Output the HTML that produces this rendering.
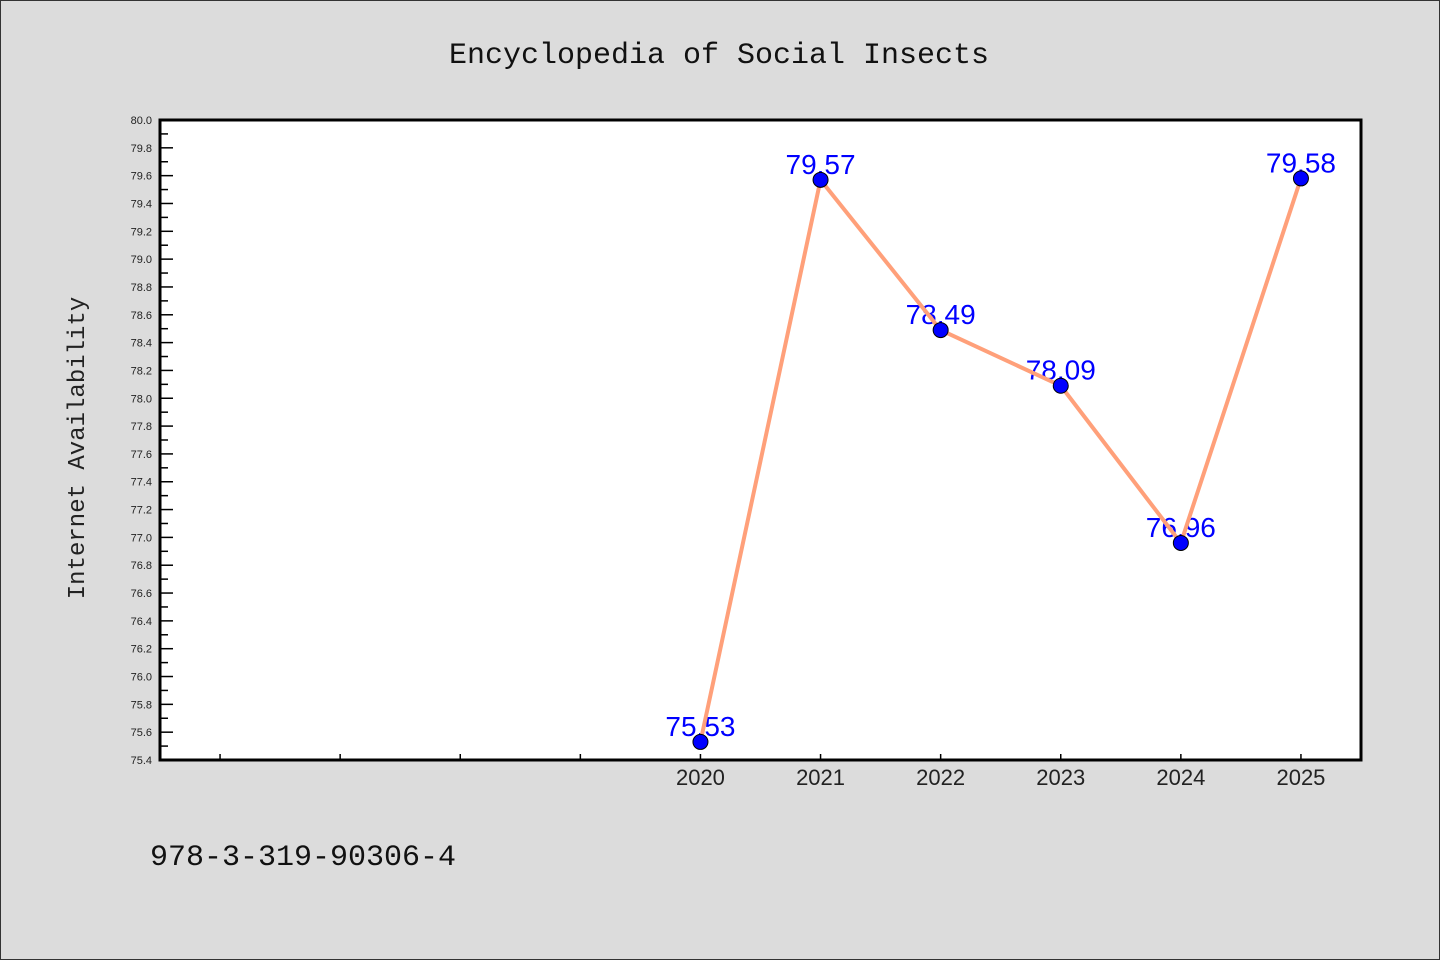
<!DOCTYPE html>
<html><head><meta charset="utf-8"><style>
html,body{margin:0;padding:0;background:#dcdcdc;}
svg{display:block;}
</style></head><body>
<svg id="chart" width="1440" height="960" xmlns="http://www.w3.org/2000/svg" font-family="Liberation Sans, DejaVu Sans, sans-serif">
<rect x="0.5" y="0.5" width="1439" height="959" fill="#dcdcdc" stroke="#333" stroke-width="1"/>
<text x="719" y="63" text-anchor="middle" font-family="Liberation Mono, monospace" font-size="30" fill="#111">Encyclopedia of Social Insects</text>
<rect x="160" y="120" width="1201" height="640" fill="#fff"/>
<g id="yticks"></g>
<g id="xticks"></g>
<g id="series"></g>
<rect x="160" y="120" width="1201" height="640" fill="none" stroke="#000" stroke-width="3"/>
<text transform="translate(84,448) rotate(-90)" text-anchor="middle" font-family="Liberation Mono, monospace" font-size="24" fill="#222">Internet Availability</text>
<text x="150" y="865" font-family="Liberation Mono, monospace" font-size="30" fill="#111">978-3-319-90306-4</text>
</svg>
<script>
const years = [2020, 2021, 2022, 2023, 2024, 2025];
const values = [75.53, 79.57, 78.49, 78.09, 76.96, 79.58];
const xTickYears = [2016, 2017, 2018, 2019, 2020, 2021, 2022, 2023, 2024, 2025];
const yMin = 75.4, yMax = 80.0;
const NS = 'http://www.w3.org/2000/svg';
const L = 160, R = 1361, T = 120, B = 760;
const xS = v => L + (v - 2015.5) / 10 * (R - L);
const yS = v => B - (v - yMin) / (yMax - yMin) * (B - T);
function mk(tag, attrs, parent) { const e = document.createElementNS(NS, tag); for (const k in attrs) e.setAttribute(k, attrs[k]); parent.appendChild(e); return e; }
const yg = document.getElementById('yticks');
for (let i = 0; i <= 46; i++) {
  const v = yMin + i * 0.1, y = yS(v), major = i % 2 === 0;
  const t = mk('line', {x1: L, x2: L + (major ? 13 : 8), y1: y, y2: y, stroke: '#000', 'stroke-width': 1.5}, yg);
  
  
  if (major) {
    const lb = mk('text', {x: 152, y: y + 4, 'text-anchor': 'end', 'font-size': 11, fill: '#222'}, yg);
    lb.textContent = v.toFixed(1);
    
    
  }
}
const xg = document.getElementById('xticks');
xTickYears.forEach(yr => {
  const x = xS(yr);
  const t = mk('line', {x1: x, x2: x, y1: B, y2: B - 6, stroke: '#000', 'stroke-width': 1.5}, xg);
  
  
  if (years.includes(yr)) {
    const lb = mk('text', {x: x, y: 785, 'text-anchor': 'middle', 'font-size': 22, fill: '#222'}, xg);
    lb.textContent = yr;
    
    
  }
});
const sg = document.getElementById('series');
years.forEach((yr, i) => {
  const lb = mk('text', {x: xS(yr), y: yS(values[i]) - 6, 'text-anchor': 'middle', 'font-size': 28, fill: '#0000ff'}, sg);
  lb.textContent = values[i].toFixed(2);
  
  
});
const line = mk('polyline', {points: years.map((yr, i) => xS(yr) + ',' + yS(values[i])).join(' '), fill: 'none', stroke: '#ffa07a', 'stroke-width': 4, 'stroke-linejoin': 'round'}, sg);


years.forEach((yr, i) => {
  const c = mk('circle', {cx: xS(yr), cy: yS(values[i]), r: 7.5, fill: '#0000ff', stroke: '#000', 'stroke-width': 1}, sg);
  
  
});
</script>
</body></html>
